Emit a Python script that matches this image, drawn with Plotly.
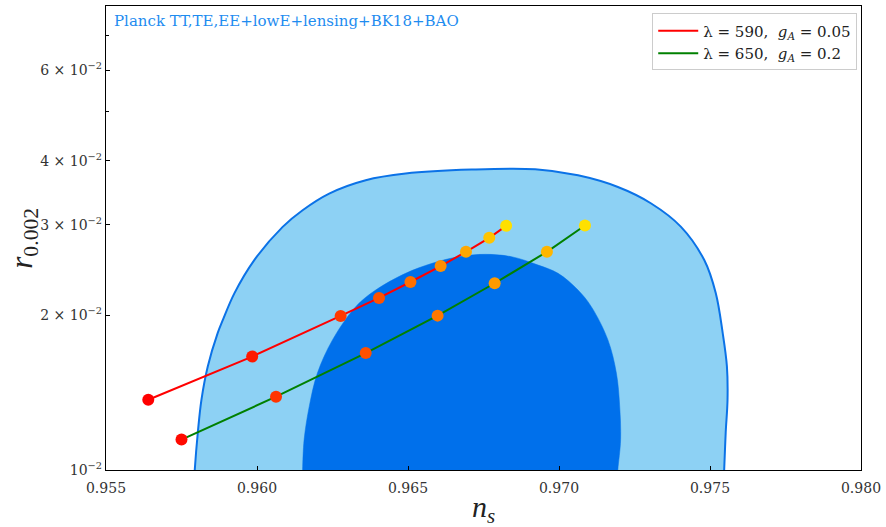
import plotly.graph_objects as go

# ---- data ----
# Planck 95% (outer) contour, n_s and r
outer_ns = [0.95792, 0.95794, 0.95804, 0.95816, 0.95837, 0.95870, 0.95887, 0.95925, 0.95991,
            0.96085, 0.96151, 0.96239, 0.96360, 0.96492, 0.96711, 0.96921, 0.97063, 0.97195,
            0.97304, 0.97404, 0.97481, 0.97519, 0.97542, 0.97556, 0.97558, 0.97552, 0.97547,
            0.97545]
outer_r = [0.0095, 0.01002, 0.01183, 0.01370, 0.01591, 0.01849, 0.01960, 0.02208, 0.02563,
           0.02975, 0.03205, 0.03453, 0.03666, 0.03777, 0.03845, 0.03850, 0.03748, 0.03557,
           0.03307, 0.02975, 0.02563, 0.02211, 0.01849, 0.01591, 0.01370, 0.01183, 0.01002,
           0.0095]
# Planck 68% (inner) contour
inner_ns = [0.96150, 0.96151, 0.96156, 0.96173, 0.96200, 0.96250, 0.96327, 0.96393, 0.96492,
            0.96580, 0.96668, 0.96756, 0.96843, 0.96931, 0.96997, 0.97063, 0.97107, 0.97162,
            0.97190, 0.97201, 0.97204, 0.97195, 0.97193]
inner_r = [0.0095, 0.01002, 0.01146, 0.01330, 0.01544, 0.01792, 0.02080, 0.02241, 0.02415,
           0.02526, 0.02602, 0.02630, 0.02602, 0.02506, 0.02415, 0.02241, 0.02080, 0.01792,
           0.01544, 0.01330, 0.01146, 0.01002, 0.0095]

# model 1: lambda=590, g_A=0.05
m1_ns = [0.95640, 0.95984, 0.96277, 0.96404, 0.96508, 0.96608, 0.96692, 0.96769, 0.96825]
m1_r = [0.01370, 0.01663, 0.01995, 0.02163, 0.02323, 0.02495, 0.02660, 0.02832, 0.02988]
m1_colors = ["#ff0000", "#ff1800", "#ff3800", "#ff5200", "#ff7000", "#ff8e00", "#ffa800", "#ffc400", "#ffe000"]
# model 2: lambda=650, g_A=0.2
m2_ns = [0.95750, 0.96063, 0.96360, 0.96598, 0.96787, 0.96960, 0.97086]
m2_r = [0.01146, 0.01389, 0.01689, 0.01998, 0.02310, 0.02660, 0.02993]
m2_colors = ["#ff0a00", "#ff3400", "#ff5000", "#ff7800", "#ff9a00", "#ffb600", "#ffe000"]

legend1 = "λ = 590,  <i>g</i><sub><i>A</i></sub> = 0.05"
legend2 = "λ = 650,  <i>g</i><sub><i>A</i></sub> = 0.2"

x_ticks = [0.955, 0.960, 0.965, 0.970, 0.975, 0.980]
x_ticktext = ["0.955", "0.960", "0.965", "0.970", "0.975", "0.980"]
y_ticks = [0.01, 0.02, 0.03, 0.04, 0.06]
y_ticktext = ["10<sup>−2</sup>", "2 × 10<sup>−2</sup>", "3 × 10<sup>−2</sup>",
              "4 × 10<sup>−2</sup>", "6 × 10<sup>−2</sup>"]
y_minor = [0.05, 0.07]

FONT = "DejaVu Serif"
TFONT = "Liberation Serif"

fig = go.Figure()
fig.add_trace(go.Scatter(x=outer_ns, y=outer_r, mode="lines", fill="toself",
                         fillcolor="#8dd1f4",
                         line=dict(color="#0b72e7", width=2, shape="spline", smoothing=1.0),
                         showlegend=False, hoverinfo="skip"))
fig.add_trace(go.Scatter(x=inner_ns, y=inner_r, mode="lines", fill="toself",
                         fillcolor="#0070eb",
                         line=dict(color="#0070eb", width=0.5, shape="spline", smoothing=1.0),
                         showlegend=False, hoverinfo="skip"))

fig.add_trace(go.Scatter(x=m1_ns, y=m1_r, mode="lines", line=dict(color="#ff0000", width=2),
                         name=legend1))
fig.add_trace(go.Scatter(x=m2_ns, y=m2_r, mode="lines", line=dict(color="#008000", width=2),
                         name=legend2))
fig.add_trace(go.Scatter(x=m1_ns, y=m1_r, mode="markers",
                         marker=dict(color=m1_colors, size=12, line=dict(width=0)),
                         showlegend=False))
fig.add_trace(go.Scatter(x=m2_ns, y=m2_r, mode="markers",
                         marker=dict(color=m2_colors, size=12, line=dict(width=0)),
                         showlegend=False))

fig.update_layout(
    width=886, height=527,
    margin=dict(l=106, r=22, t=5, b=57),
    plot_bgcolor="white", paper_bgcolor="white",
    font=dict(family=FONT, color="#222222", size=14),
    legend=dict(x=0.995, y=0.984, xanchor="right", yanchor="top",
                bgcolor="white", bordercolor="#cccccc", borderwidth=1,
                font=dict(family=FONT, size=15, color="#222222"),
                itemwidth=40, tracegroupgap=2),
    showlegend=True,
)
fig.update_xaxes(range=[0.955, 0.980], tickvals=x_ticks, ticktext=x_ticktext,
                 ticks="inside", ticklen=4, tickcolor="black", tickwidth=1,
                 ticklabelstandoff=5,
                 showline=True, linecolor="black", linewidth=1.3, mirror=True,
                 showgrid=False, zeroline=False,
                 tickfont=dict(family=FONT, size=14, color="#333333"))
fig.update_yaxes(type="log", range=[-2, -1.0965], tickvals=y_ticks, ticktext=y_ticktext,
                 ticks="inside", ticklen=4, tickcolor="black", tickwidth=1,
                 minor=dict(tickvals=y_minor, ticks="inside", ticklen=2.5, tickcolor="black"),
                 showline=True, linecolor="black", linewidth=1.3, mirror=True,
                 showgrid=False, zeroline=False,
                 tickfont=dict(family=FONT, size=14, color="#333333"))

fig.add_annotation(text="Planck TT,TE,EE+lowE+lensing+BK18+BAO", xref="paper", yref="paper",
                   x=0.008, y=0.992, xanchor="left", yanchor="top", showarrow=False,
                   font=dict(family=FONT, size=15, color="#1e8cf0"))
fig.add_annotation(text="<i>n</i><sub><i>s</i></sub>", xref="paper", yref="paper",
                   x=0.5, y=-0.083, xanchor="center", yanchor="middle", showarrow=False,
                   font=dict(family=TFONT, size=30, color="#222222"))
fig.add_annotation(text="<i>r</i><sub>0.002</sub>", xref="paper", yref="paper",
                   x=-0.109, y=0.5, xanchor="center", yanchor="middle", showarrow=False,
                   textangle=-90, font=dict(family=TFONT, size=31, color="#222222"))

fig.write_html("out.html", config={"displayModeBar": False},
               post_script="document.body.style.margin='0px';document.body.style.padding='0px';")
